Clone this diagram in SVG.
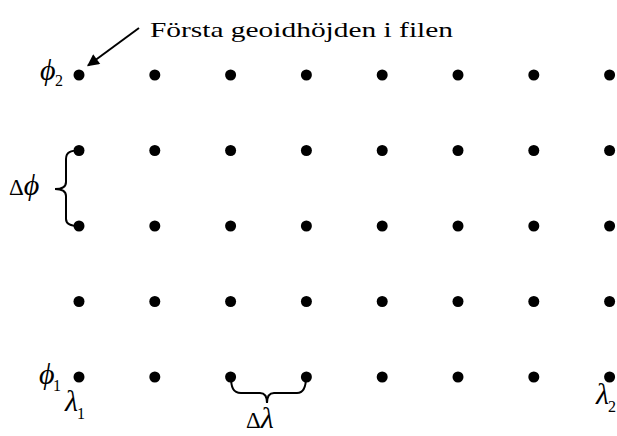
<svg xmlns="http://www.w3.org/2000/svg" width="617" height="436" viewBox="0 0 617 436">
<style>
.dot{fill:#000}
.t{font-family:"Liberation Serif","Times New Roman",serif;fill:#000}
.g{font-family:"Liberation Serif","DejaVu Serif",serif;font-style:italic;font-size:30px;fill:#000}
.s{font-family:"Liberation Serif",serif;font-size:16px;fill:#000}
.ln{fill:none;stroke:#000;stroke-width:2}
</style>
<defs>
<marker id="ah" viewBox="0 0 10 10" refX="9" refY="5" markerWidth="8" markerHeight="6" orient="auto" markerUnits="strokeWidth">
<path d="M0,0 L10,5 L0,10 Z" fill="#000"/>
</marker>
<circle id="d" r="5.5" class="dot"/>
</defs>
<rect width="617" height="436" fill="#fff"/>
<g id="grid">
<g id="row1"><use href="#d" x="79" y="75"/><use href="#d" x="154.8" y="75"/><use href="#d" x="230.6" y="75"/><use href="#d" x="306.4" y="75"/><use href="#d" x="382.2" y="75"/><use href="#d" x="458" y="75"/><use href="#d" x="533.8" y="75"/><use href="#d" x="609.6" y="75"/></g>
<g id="row2"><use href="#d" x="79" y="150.5"/><use href="#d" x="154.8" y="150.5"/><use href="#d" x="230.6" y="150.5"/><use href="#d" x="306.4" y="150.5"/><use href="#d" x="382.2" y="150.5"/><use href="#d" x="458" y="150.5"/><use href="#d" x="533.8" y="150.5"/><use href="#d" x="609.6" y="150.5"/></g>
<g id="row3"><use href="#d" x="79" y="226"/><use href="#d" x="154.8" y="226"/><use href="#d" x="230.6" y="226"/><use href="#d" x="306.4" y="226"/><use href="#d" x="382.2" y="226"/><use href="#d" x="458" y="226"/><use href="#d" x="533.8" y="226"/><use href="#d" x="609.6" y="226"/></g>
<g id="row4"><use href="#d" x="79" y="301.5"/><use href="#d" x="154.8" y="301.5"/><use href="#d" x="230.6" y="301.5"/><use href="#d" x="306.4" y="301.5"/><use href="#d" x="382.2" y="301.5"/><use href="#d" x="458" y="301.5"/><use href="#d" x="533.8" y="301.5"/><use href="#d" x="609.6" y="301.5"/></g>
<g id="row5"><use href="#d" x="79" y="377"/><use href="#d" x="154.8" y="377"/><use href="#d" x="230.6" y="377"/><use href="#d" x="306.4" y="377"/><use href="#d" x="382.2" y="377"/><use href="#d" x="458" y="377"/><use href="#d" x="533.8" y="377"/><use href="#d" x="609.6" y="377"/></g>
</g>
<g id="connectors">
<line class="ln" x1="139" y1="28" x2="88" y2="65.5" marker-end="url(#ah)"/>
<path class="ln" d="M79,150.5 C71,150.5 66,152 66,159 L66,182 C66,186.5 62,189 55,189 C62,189 66,191.5 66,196 L66,219 C66,224 71,226 79,226"/>
<path class="ln" d="M231,377 C231,387 233,393 241,393 L260,393 C265,393 267,396 267,403 C267,396 269,393 274,393 L297,393 C304,393 306,387 306,377"/>
</g>
<g id="label-first">
<text class="t" x="150" y="37" font-size="22" textLength="303" lengthAdjust="spacingAndGlyphs">Första geoidhöjden i filen</text>
</g>
<g id="label-phi2"><text class="g" x="40" y="80">ϕ</text><text class="s" x="55" y="86">2</text></g>
<g id="label-dphi"><text class="t" x="9" y="195" font-size="23">Δ<tspan class="g">ϕ</tspan></text></g>
<g id="label-phi1"><text class="g" x="39" y="384">ϕ</text><text class="s" x="53" y="391">1</text></g>
<g id="label-lam1"><text class="g" x="65" y="411">λ</text><text class="s" x="77" y="419">1</text></g>
<g id="label-lam2"><text class="g" x="596" y="404">λ</text><text class="s" x="608" y="412">2</text></g>
<g id="label-dlam"><text class="t" x="246" y="428" font-size="23">Δ<tspan class="g">λ</tspan></text></g>
</svg>
